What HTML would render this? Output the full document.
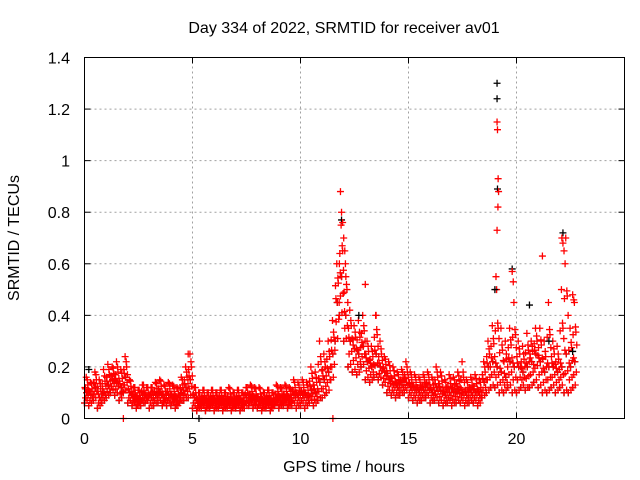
<!DOCTYPE html>
<html><head><meta charset="utf-8"><style>
body{margin:0;background:#fff}
svg{display:block;font-family:"Liberation Sans",sans-serif}
</style></head><body>
<svg id="chart" width="640" height="480" xmlns="http://www.w3.org/2000/svg">
<rect width="640" height="480" fill="#fff"/>
<text x="344" y="33" font-size="16" text-anchor="middle">Day 334 of 2022, SRMTID for receiver av01</text>
<text x="344" y="472" font-size="16" text-anchor="middle">GPS time / hours</text>
<text transform="translate(19,238) rotate(-90)" font-size="16" text-anchor="middle">SRMTID / TECUs</text>
<g id="grid"></g><g id="ticks"></g><g id="marks"></g>
<rect x="84.5" y="57.5" width="540" height="361" fill="none" stroke="#000"/>
</svg>
<script>
const xTicks=[0,5,10,15,20];
const yTicks=[0,0.2,0.4,0.6,0.8,1,1.2,1.4];
const yTickLabels=["0","0.2","0.4","0.6","0.8","1","1.2","1.4"];
const times=[0,0.2,0.4,0.6,0.8,1,1.2,1.4,1.6,1.8,2,2.2,2.4,2.6,2.8,3,3.2,3.4,3.6,3.8,4,4.2,4.4,4.6,4.8,5,5.2,5.4,5.6,5.8,6,6.2,6.4,6.6,6.8,7,7.2,7.4,7.6,7.8,8,8.2,8.4,8.6,8.8,9,9.2,9.4,9.6,9.8,10,10.2,10.4,10.6,10.8,11,11.2,11.4,11.6,11.8,12,12.2,12.4,12.6,12.8,13,13.2,13.4,13.6,13.8,14,14.2,14.4,14.6,14.8,15,15.2,15.4,15.6,15.8,16,16.2,16.4,16.6,16.8,17,17.2,17.4,17.6,17.8,18,18.2,18.4,18.6,18.8,19,19.2,19.4,19.6,19.8,20,20.2,20.4,20.6,20.8,21,21.2,21.4,21.6,21.8,22,22.2,22.4,22.6];
const lowVals=[0.06,0.05,0.07,0.04,0.06,0.08,0.1,0.09,0.07,0.1,0.06,0.05,0.04,0.05,0.06,0.04,0.05,0.06,0.05,0.05,0.05,0.04,0.06,0.07,0.08,0.04,0.03,0.04,0.03,0.04,0.03,0.04,0.03,0.04,0.03,0.04,0.03,0.04,0.05,0.04,0.04,0.03,0.04,0.03,0.05,0.04,0.05,0.04,0.05,0.04,0.05,0.04,0.06,0.05,0.07,0.08,0.1,0.15,0.3,0.4,0.3,0.2,0.18,0.17,0.2,0.15,0.14,0.16,0.15,0.13,0.1,0.09,0.08,0.09,0.1,0.08,0.07,0.06,0.07,0.08,0.06,0.07,0.06,0.05,0.06,0.05,0.06,0.06,0.05,0.06,0.06,0.05,0.08,0.1,0.12,0.12,0.1,0.1,0.12,0.1,0.1,0.12,0.11,0.12,0.14,0.12,0.1,0.1,0.12,0.1,0.12,0.1,0.1,0.12];
const midVals=[0.1,0.09,0.12,0.08,0.1,0.13,0.15,0.14,0.12,0.16,0.1,0.08,0.07,0.09,0.08,0.08,0.09,0.1,0.08,0.09,0.08,0.07,0.1,0.12,0.15,0.08,0.06,0.07,0.06,0.07,0.06,0.07,0.06,0.07,0.06,0.07,0.06,0.08,0.08,0.07,0.07,0.06,0.07,0.06,0.08,0.07,0.08,0.07,0.09,0.08,0.09,0.08,0.11,0.1,0.14,0.15,0.18,0.25,0.45,0.55,0.4,0.3,0.27,0.25,0.28,0.22,0.2,0.25,0.2,0.18,0.15,0.13,0.12,0.13,0.14,0.12,0.11,0.1,0.11,0.12,0.1,0.12,0.11,0.09,0.1,0.1,0.11,0.1,0.09,0.1,0.1,0.09,0.14,0.2,0.22,0.2,0.18,0.16,0.22,0.2,0.2,0.18,0.2,0.22,0.25,0.22,0.18,0.2,0.2,0.18,0.2,0.25,0.2,0.22];
const highVals=[0.16,0.14,0.18,0.15,0.19,0.21,0.2,0.22,0.19,0.24,0.15,0.12,0.11,0.13,0.12,0.12,0.14,0.15,0.13,0.14,0.13,0.12,0.16,0.2,0.25,0.12,0.1,0.11,0.1,0.11,0.1,0.11,0.1,0.12,0.1,0.11,0.1,0.12,0.13,0.12,0.12,0.1,0.11,0.1,0.13,0.12,0.13,0.12,0.15,0.14,0.15,0.14,0.2,0.18,0.3,0.25,0.3,0.38,0.6,0.75,0.6,0.42,0.36,0.38,0.4,0.3,0.28,0.4,0.3,0.24,0.22,0.2,0.18,0.19,0.22,0.18,0.17,0.16,0.17,0.18,0.16,0.2,0.18,0.15,0.17,0.16,0.18,0.22,0.15,0.16,0.17,0.15,0.22,0.3,0.36,0.5,0.35,0.3,0.35,0.45,0.3,0.28,0.33,0.3,0.35,0.35,0.3,0.45,0.3,0.28,0.5,0.7,0.35,0.45];
const peakTimes=[11.85,11.9,11.95,12,12.05,11.8,12.1,13,13.5,19.1,19.12,19.15,19.17,19.14,19.1,19.05,19.8,19.85,21.2,22.1,22.15,22.2,22.25,22.6,22.65,1.8,11.5,4.8];
const peakVals=[0.88,0.8,0.76,0.7,0.65,0.6,0.55,0.52,0.4,1.15,1.12,0.93,0.88,0.82,0.73,0.55,0.57,0.53,0.63,0.7,0.68,0.65,0.6,0.48,0.46,0,0,0.25];
const blackTimes=[19.1,19.1,19.12,19.8,20.6,11.9,22.15,22.6,5.3,12.7,0.2,19.0,21.5];
const blackVals=[1.3,1.24,0.89,0.58,0.44,0.77,0.72,0.26,0,0.4,0.19,0.5,0.3];

const NS="http://www.w3.org/2000/svg";
const X0=84.5,X1=624.5,Y0=418.5,Y1=57.5;
function xs(t){return X0+(t/25)*(X1-X0);}
function ys(v){return Y0-(v/1.4)*(Y0-Y1);}
const grid=document.getElementById('grid'),ticks=document.getElementById('ticks'),marks=document.getElementById('marks');
function mk(tag,attrs,parent){const e=document.createElementNS(NS,tag);for(const k in attrs)e.setAttribute(k,attrs[k]);parent.appendChild(e);return e;}
xTicks.forEach(t=>{
  const x=xs(t);
  if(t>0){const g=mk('line',{x1:x,x2:x,y1:Y0,y2:Y1,stroke:'#a0a0a0','stroke-dasharray':'2,3'},grid);
  
  }
  mk('line',{x1:x,x2:x,y1:Y0,y2:Y0-6,stroke:'#000'},ticks);
  mk('line',{x1:x,x2:x,y1:Y1,y2:Y1+6,stroke:'#000'},ticks);
  const l=mk('text',{x:x,y:444,'font-size':16,'text-anchor':'middle'},ticks);l.textContent=t;
  
  
});
yTicks.forEach((v,i)=>{
  const y=ys(v);
  if(v>0&&v<1.4){const g=mk('line',{x1:X0,x2:X1,y1:y,y2:y,stroke:'#a0a0a0','stroke-dasharray':'2,3'},grid);
  
  }
  mk('line',{x1:X0,x2:X0+6,y1:y,y2:y,stroke:'#000'},ticks);
  mk('line',{x1:X1,x2:X1-6,y1:y,y2:y,stroke:'#000'},ticks);
  const l=mk('text',{x:70,y:y+6,'font-size':16,'text-anchor':'end'},ticks);l.textContent=yTickLabels[i];
  
  
});
function plus(t,v,col,name){
  const x=xs(t),y=ys(v);
  const p=mk('path',{d:`M${x-3.5},${y}h7M${x},${y-3.5}v7`,stroke:col,'stroke-width':1.3,fill:'none'},marks);
  
  
}
times.forEach((t,i)=>{
  const lo=lowVals[i],md=midVals[i];
  plus(t,lo,'#000','point-black');
  plus(t+0.1,md,'#000','point-black');
});
times.forEach((t,i)=>{
  const lo=lowVals[i],md=midVals[i],hi=highVals[i];
  plus(t,lo,'#f00','point-red');
  plus(t+0.05,(lo+md)/2,'#f00','point-red');
  plus(t+0.1,md,'#f00','point-red');
  plus(t+0.15,(md+hi)/2,'#f00','point-red');
  plus(t+0.08,hi,'#f00','point-red');
  plus(t+0.17,(lo+md)/2+0.01,'#f00','point-red');
  plus(t+0.02,(md+hi)/2-0.01,'#f00','point-red');
  plus(t+0.12,lo+0.01,'#f00','point-red');
  plus(t+0.04,md+0.015,'#f00','point-red');
  plus(t+0.19,(lo+hi)/2,'#f00','point-red');
  plus(t+0.13,(md+hi)/2+0.02,'#f00','point-red');
});
blackTimes.forEach((t,i)=>plus(t,blackVals[i],'#000','point-black'));
peakTimes.forEach((t,i)=>plus(t,peakVals[i],'#f00','point-red'));
</script>
</body></html>
